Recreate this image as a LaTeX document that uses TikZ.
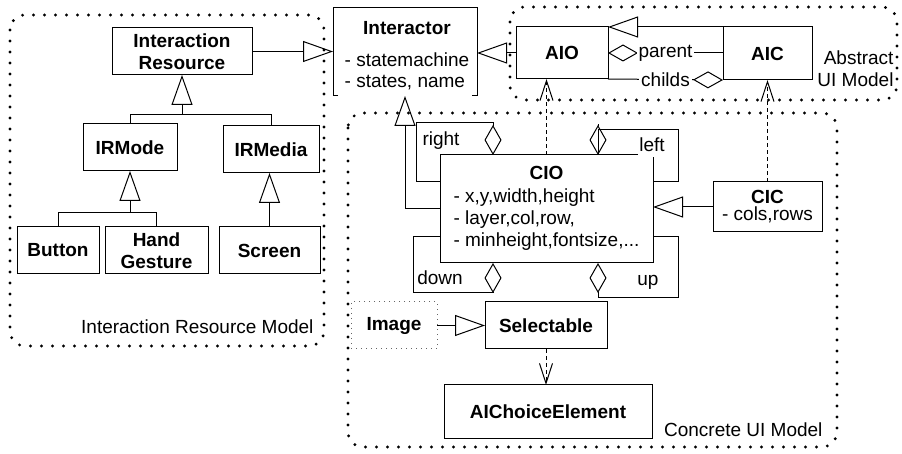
\documentclass[tikz,border=0pt]{standalone}
\usepackage{fontspec}
\setmainfont{Liberation Sans}
\usetikzlibrary{arrows.meta}
\newcommand{\figfont}{\fontsize{9.5}{11}\selectfont}
\tikzset{
  cls/.style={draw, inner sep=0pt, outer sep=0pt, align=center, font=\figfont\bfseries},
  gen/.style={-{Triangle[open, length=15pt, width=10.5pt]}},
  agg/.style={{Diamond[open, length=15pt, width=8.5pt]}-},
  dep/.style={dash pattern=on 2pt off 1.5pt, -{Straight Barb[length=10pt, width=6.5pt]}},
  lbl/.style={fill=white, inner sep=1pt},
  model/.style={line width=1.6pt, dash pattern=on 0pt off 5.5pt, line cap=round, rounded corners=7.5pt}
}
\begin{document}
\begin{tikzpicture}[x=0.5pt, y=-0.5pt, line width=0.5pt, inner sep=0pt, font=\figfont]
		\useasboundingbox (0,0) rectangle (902,454);
		
		% model frames
		\draw[model] (10,15) rectangle (324,346);
		\draw[model] (510,7) rectangle (897,100);
		\draw[model] (348,113) rectangle (837,447);
		\node (irmlabel) [anchor=east] at (314,327) {Interaction Resource Model};
		\node (auimlabel) [anchor=east, align=right] at (894,69) {Abstract\\UI Model};
		\node (cuimlabel) [anchor=east] at (823,430) {Concrete UI Model};
		
		% interaction resource model
		\node[cls, minimum width=70pt, minimum height=23.5pt] (ir) at (182,51.5) {Interaction\\Resource};
		\node[cls, minimum width=47pt, minimum height=23.5pt] (irmode) at (130,147.5) {IRMode};
		\node[cls, minimum width=48pt, minimum height=23.5pt] (irmedia) at (271,149.5) {IRMedia};
		\node[cls, minimum width=41pt, minimum height=23.5pt] (button) at (58,250.5) {Button};
		\node[cls, minimum width=51.5pt, minimum height=23.5pt] (hand) at (156.5,250.5) {Hand\\Gesture};
		\node[cls, minimum width=50.5pt, minimum height=23.5pt] (screen) at (269.5,250.5) {Screen};
		
		\coordinate (irjoin) at (182,115);
		\coordinate (modejoin) at (130,213);
		\draw[gen] (irmode.north) |- (irjoin) -- (ir.south);
		\draw (irmedia.north) |- (irjoin);
		\draw[gen] (button.north) |- (modejoin) -- (irmode.south);
		\draw (hand.north) |- (modejoin);
		\draw[gen] (screen.north) -- (screen.north |- irmedia.south);
		
		% interactor
		\node[cls, draw=none, minimum width=72pt, minimum height=44pt] (interactor) at (405,52) {};
		\node (interactortext) at (407,56.5) {\begin{tabular}{@{}l@{}}\multicolumn{1}{c}{\textbf{Interactor}}\\[5pt]- statemachine\\[-0.5pt]- states, name\end{tabular}};
		\draw ([xshift=2.5pt]interactor.south west) -- (interactor.south west) -- (interactor.north west)
			-- (interactor.north east) -- (interactor.south east) -- ([xshift=-2.5pt]interactor.south east);
		\draw[gen] (ir.east) -- (ir.east -| interactor.west);
		
		% abstract UI model
		\node[cls, minimum width=46pt, minimum height=26pt] (aio) at (562,53) {AIO};
		\node[cls, minimum width=44.5pt, minimum height=26.5pt] (aic) at (767.5,53.5) {AIC};
		\draw[gen] (aio.west) -- (aio.west -| interactor.east);
		\draw[gen] (aic.north west) -- (aio.north east);
		\draw[agg] (aio.east) -- node[lbl]{parent} (aio.east -| aic.west);
		\draw[agg] (aic.south west) -- node[lbl]{childs} (aio.south east);
		
		% concrete UI model
		\node[cls, draw=none, font=\figfont, minimum width=106.5pt, minimum height=54pt] (cio) at (546.5,209)
			{\begin{tabular}{@{}l@{}}\multicolumn{1}{c}{\textbf{CIO}}\\[0.5pt]- x,y,width,height\\- layer,col,row,\\- minheight,fontsize,...\end{tabular}};
		\draw ([xshift=-7.5pt]cio.north east) -- (cio.north west) -- (cio.south west) -- (cio.south east) -- ([yshift=-1pt]cio.north east);
		\node[cls, minimum width=54.5pt, minimum height=25pt] (cic) at (767.5,207) {CIC\\[-2.5pt]\mdseries - cols,rows};
		\node[cls, minimum width=61pt, minimum height=23.5pt] (selectable) at (546,325.5) {Selectable};
		\node[cls, draw=black!60, dotted, minimum width=43pt, minimum height=23.5pt] (image) at (394,325.5) {Image};
		\node[cls, minimum width=104pt, minimum height=27pt] (aichoice) at (548,412) {AIChoiceElement};
		
		\draw[gen] (cio.west) -| (interactor.south);
		\draw[gen] (cic.west) -- (cic.west -| cio.east);
		\draw[gen] (image.east) -- (selectable.west);
		\draw[dep] (cio.north) -- (cio.north |- aio.south);
		\draw[dep] (cic.north) -- (aic.south);
		\draw[dep] (selectable.south) -- (selectable.south |- aichoice.north);
		
		% self associations of CIO
		\coordinate (rightfoot) at ([xshift=26.5pt]cio.north west);
		\coordinate (leftfoot) at ([xshift=79pt]cio.north west);
		\coordinate (downfoot) at ([xshift=26.5pt]cio.south west);
		\coordinate (upfoot) at ([xshift=79pt]cio.south west);
		\draw[agg] (rightfoot) -- ++(0,-32) -| ++(-77,59) -- ([yshift=-13.5pt]cio.north west);
		\draw (leftfoot) |- ++(80,-25) |- ([yshift=-13.5pt]cio.north east);
		\draw[agg] (leftfoot) -- ++(0,-31);
		\draw[agg] (downfoot) -- ++(0,30) -| ++(-80,-56) -- ([yshift=13pt]cio.south west);
		\draw[agg] (upfoot) -- ++(0,35) -| ++(80,-61) -- ([yshift=13pt]cio.south east);
		\node (rightlbl) at (441,141) {right};
		\node (leftlbl) at (652,145) {left};
		\node (downlbl) at (440,278) {down};
		\node (uplbl) at (648,282) {up};
\end{tikzpicture}
\end{document}
